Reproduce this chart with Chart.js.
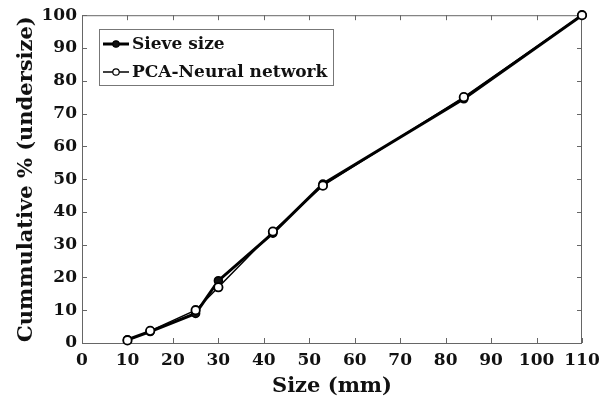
<!DOCTYPE html>
<html>
<head>
<meta charset="utf-8">
<script src="https://cdn.jsdelivr.net/npm/chart.js@4.4.0/dist/chart.umd.min.js"></script>
<style>
  html, body { margin: 0; padding: 0; background: #fff; }
  #wrap { width: 609px; height: 402px; }
</style>
</head>
<body>
<div id="wrap"><canvas id="psdChart" width="609" height="402"></canvas></div>
<script>
// size in mm and cumulative % undersize
const sizes = [10, 15, 25, 30, 42, 53, 84, 110];
const sieveValues = [1, 3.5, 9, 19, 33.5, 48.5, 74.5, 100];
const pcaValues = [0.8, 3.7, 10, 17, 34, 48, 75, 100];
const xTicks = [0, 10, 20, 30, 40, 50, 60, 70, 80, 90, 100, 110];
const yTicks = [0, 10, 20, 30, 40, 50, 60, 70, 80, 90, 100];

const FONT = "'DejaVu Serif', serif";

function toPoints(vals) {
    return sizes.map((s, i) => ({ x: s, y: vals[i] }));
}

// inward ticks on all four sides, plus a legend box inside the plot
const framePlugin = {
    id: 'frame',
    beforeDatasetsDraw(chart) {
        const ctx = chart.ctx;
        const a = chart.chartArea;
        const xs = chart.scales.x, ys = chart.scales.y;
        ctx.save();
        ctx.strokeStyle = '#666';
        ctx.lineWidth = 1;
        ctx.strokeRect(a.left + 0.5, a.top + 0.5, a.right - a.left - 1, a.bottom - a.top);
        ctx.beginPath();
        xTicks.forEach(v => {
            const px = Math.round(xs.getPixelForValue(v)) + 0.5;
            ctx.moveTo(px, a.bottom); ctx.lineTo(px, a.bottom - 5);
            ctx.moveTo(px, a.top); ctx.lineTo(px, a.top + 5);
        });
        yTicks.forEach(v => {
            const py = Math.round(ys.getPixelForValue(v)) + 0.5;
            ctx.moveTo(a.left, py); ctx.lineTo(a.left + 5, py);
            ctx.moveTo(a.right, py); ctx.lineTo(a.right - 5, py);
        });
        ctx.stroke();
        ctx.restore();
    },
    afterDraw(chart) {
        const ctx = chart.ctx;
        ctx.save();
        const bx = 99, by = 29, bw = 234, bh = 56;
        ctx.fillStyle = '#fff';
        ctx.fillRect(bx, by, bw, bh);
        ctx.strokeStyle = '#777';
        ctx.lineWidth = 1;
        ctx.strokeRect(bx + 0.5, by + 0.5, bw, bh);
        const rows = [chart.data.datasets[0], chart.data.datasets[1]];
        rows.forEach((ds, i) => {
            const cy = by + 15 + i * 28;
            ctx.strokeStyle = '#000';
            ctx.lineWidth = ds.borderWidth;
            ctx.beginPath();
            ctx.moveTo(bx + 4, cy); ctx.lineTo(bx + 30, cy);
            ctx.stroke();
            ctx.beginPath();
            ctx.arc(bx + 17, cy, 3.2, 0, Math.PI * 2);
            ctx.fillStyle = ds.pointBackgroundColor;
            ctx.fill();
            ctx.lineWidth = 1.2;
            ctx.stroke();
            ctx.fillStyle = '#111';
            ctx.font = "bold 17px " + FONT;
            ctx.textBaseline = 'middle';
            ctx.fillText(ds.label, bx + 33, cy + 1);
        });
        ctx.restore();
    }
};

new Chart(document.getElementById('psdChart'), {
    type: 'scatter',
    data: {
        datasets: [{
            label: 'Sieve size',
            data: toPoints(sieveValues),
            showLine: true,
            clip: false,
            borderColor: '#000',
            borderWidth: 3,
            pointRadius: 4,
            pointBackgroundColor: '#111',
            pointBorderColor: '#000',
            pointBorderWidth: 1.5,
            order: 2
        }, {
            label: 'PCA-Neural network',
            data: toPoints(pcaValues),
            showLine: true,
            clip: false,
            borderColor: '#000',
            borderWidth: 1.5,
            pointRadius: 4.2,
            pointBackgroundColor: '#fff',
            pointBorderColor: '#000',
            pointBorderWidth: 1.8,
            order: 1
        }]
    },
    options: {
        responsive: false,
        animation: false,
        layout: { padding: { left: 0, right: 27, top: 12, bottom: 0 } },
        plugins: { legend: { display: false }, tooltip: { enabled: false } },
        scales: {
            x: {
                type: 'linear',
                min: 0,
                max: 110,
                afterBuildTicks: s => { s.ticks = xTicks.map(v => ({ value: v })); },
                afterFit: s => { s.height = 59; },
                grid: { display: false, drawTicks: false },
                border: { display: false },
                ticks: {
                    color: '#111',
                    padding: 7,
                    maxRotation: 0,
                    font: { family: FONT, size: 17, weight: 'bold' }
                },
                title: {
                    display: true,
                    text: 'Size (mm)',
                    color: '#111',
                    padding: { top: 0, bottom: 3 },
                    font: { family: FONT, size: 21, weight: 'bold' }
                }
            },
            y: {
                min: 0,
                max: 100,
                afterBuildTicks: s => { s.ticks = yTicks.map(v => ({ value: v })); },
                afterFit: s => { s.width = 82; },
                grid: { display: false, drawTicks: false },
                border: { display: false },
                ticks: {
                    color: '#111',
                    padding: 5,
                    font: { family: FONT, size: 17, weight: 'bold' }
                },
                title: {
                    display: true,
                    text: 'Cummulative % (undersize)',
                    color: '#111',
                    padding: { top: 14, bottom: 0 },
                    font: { family: FONT, size: 21, weight: 'bold' }
                }
            }
        }
    },
    plugins: [framePlugin]
});
</script>
</body>
</html>
